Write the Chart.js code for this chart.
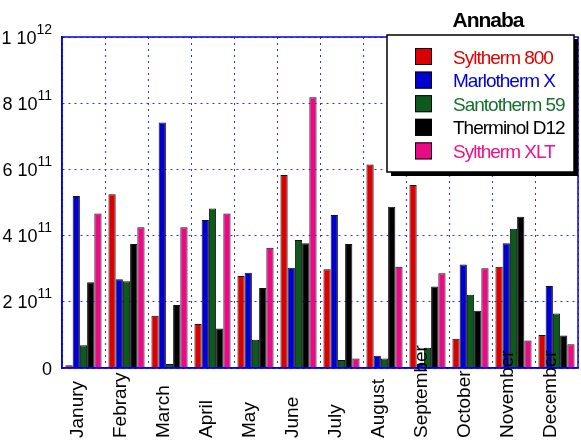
<!DOCTYPE html>
<html>
<head>
<meta charset="utf-8">
<script src="https://cdn.jsdelivr.net/npm/chart.js@4/dist/chart.umd.min.js"></script>
<style>
html,body{margin:0;padding:0;background:#fff;}
#wrap{width:581px;height:441px;position:relative;}
</style>
</head>
<body>
<div id="wrap"><canvas id="c" width="581" height="441"></canvas></div>
<script>
const chartTitle = 'Annaba';
const categories = ['Janury','Febrary','March','April','May','June','July','August','September','October','November','December'];
const seriesNames = ['Syltherm 800','Marlotherm X','Santotherm 59','Therminol D12','Syltherm XLT'];
const syltherm800  = [0.08e11, 5.25e11, 1.58e11, 1.33e11, 2.78e11, 5.83e11, 2.98e11, 6.15e11, 5.53e11, 0.88e11, 3.06e11, 1.00e11];
const marlothermX  = [5.20e11, 2.68e11, 7.42e11, 4.47e11, 2.88e11, 3.03e11, 4.62e11, 0.37e11, 0.12e11, 3.13e11, 3.77e11, 2.48e11];
const santotherm59 = [0.69e11, 2.62e11, 0.12e11, 4.82e11, 0.85e11, 3.87e11, 0.24e11, 0.29e11, 0.61e11, 2.21e11, 4.21e11, 1.65e11];
const therminolD12 = [2.59e11, 3.75e11, 1.90e11, 1.19e11, 2.42e11, 3.77e11, 3.75e11, 4.87e11, 2.46e11, 1.73e11, 4.57e11, 0.98e11];
const sylthermXLT  = [4.67e11, 4.25e11, 4.25e11, 4.67e11, 3.63e11, 8.18e11, 0.29e11, 3.06e11, 2.86e11, 3.01e11, 0.83e11, 0.72e11];
const yTickValues    = [0, 2e11, 4e11, 6e11, 8e11, 1e12];
const yTickMantissas = ['0', '2 10', '4 10', '6 10', '8 10', '1 10'];
const yTickExponents = ['', '11', '11', '11', '11', '12'];

const barColors  = ['#dc0000', '#0000d0', '#0b5c1c', '#000000', '#ea0a86'];
const textColors = ['#e00000', '#0000dd', '#17702a', '#000000', '#ee1188'];
const seriesData = [syltherm800, marlothermX, santotherm59, therminolD12, sylthermXLT];

const FONT = '"Liberation Sans", Arial, Helvetica, sans-serif';

const decorPlugin = {
  id: 'decor',
  afterDraw(chart) {
    const ctx = chart.ctx;
    const a = chart.chartArea;
    const xs = chart.scales.x, ys = chart.scales.y;
    ctx.save();
    // full frame
    ctx.strokeStyle = '#0000ee';
    ctx.lineWidth = 1.5;
    ctx.setLineDash([]);
    ctx.strokeRect(a.left, a.top, a.right - a.left, a.bottom - a.top);

    // y tick labels with superscripts
    ctx.fillStyle = '#000';
    const rightEdge = a.left - 10;
    yTickValues.forEach((v, i) => {
      const y = ys.getPixelForValue(v);
      ctx.font = '14px ' + FONT;
      const supW = yTickExponents[i] ? ctx.measureText(yTickExponents[i]).width : 0;
      if (yTickExponents[i]) {
        ctx.textAlign = 'right';
        ctx.textBaseline = 'alphabetic';
        ctx.fillText(yTickExponents[i], rightEdge, y - 3.5);
      }
      ctx.font = '18px ' + FONT;
      ctx.textAlign = 'right';
      ctx.textBaseline = 'alphabetic';
      ctx.fillText(yTickMantissas[i], rightEdge - supW, y + 6.5);
    });

    // x labels, rotated, bottom aligned
    ctx.font = '19px ' + FONT;
    ctx.fillStyle = '#000';
    categories.forEach((c, i) => {
      const x = xs.getPixelForValue(i);
      ctx.save();
      ctx.translate(x - 1, 438);
      ctx.rotate(-Math.PI / 2);
      ctx.textAlign = 'left';
      ctx.textBaseline = 'alphabetic';
      ctx.fillText(c, 0, 0);
      ctx.restore();
    });

    // title
    ctx.font = 'bold 21px ' + FONT;
    try { ctx.letterSpacing = '-1px'; } catch (e) {}
    ctx.textAlign = 'center';
    ctx.textBaseline = 'alphabetic';
    ctx.fillStyle = '#000';
    ctx.fillText(chartTitle, 488, 26.5);

    // legend box with shadow
    const bx = 387, by = 35, bw = 187, bh = 137;
    ctx.fillStyle = '#000';
    ctx.fillRect(bx + 4, by + 4, bw, bh);
    ctx.fillStyle = '#fff';
    ctx.fillRect(bx, by, bw, bh);
    ctx.strokeStyle = '#000';
    ctx.lineWidth = 1.5;
    ctx.strokeRect(bx, by, bw, bh);
    ctx.font = '19px ' + FONT;
    try { ctx.letterSpacing = '-1px'; } catch (e) {}
    chart.data.datasets.forEach((ds, i) => {
      const top = 48 + i * 23.6;
      ctx.fillStyle = ds.backgroundColor;
      ctx.fillRect(415, top, 17, 17);
      ctx.strokeStyle = '#000';
      ctx.lineWidth = 1;
      ctx.strokeRect(415.5, top + 0.5, 16, 16);
      ctx.fillStyle = textColors[i];
      ctx.textAlign = 'left';
      ctx.fillText(ds.label, 453, top + 15.5);
    });
    ctx.restore();
  }
};

new Chart(document.getElementById('c'), {
  type: 'bar',
  data: {
    labels: categories,
    datasets: seriesNames.map((n, i) => ({
      label: n,
      data: seriesData[i],
      backgroundColor: barColors[i],
      borderColor: '#111',
      borderWidth: 1,
      borderSkipped: 'bottom',
      categoryPercentage: 0.84,
      barPercentage: 1.0
    }))
  },
  options: {
    responsive: false,
    animation: false,
    devicePixelRatio: 1,
    layout: { padding: { left: 62, right: 3, top: 37, bottom: 73 } },
    plugins: { legend: { display: false }, tooltip: { enabled: false }, title: { display: false } },
    scales: {
      x: {
        ticks: { display: false },
        grid: { display: true, color: '#3030ee', lineWidth: 1, drawTicks: false, offset: true },
        border: { display: true, color: '#0000ee', width: 1.5, dash: [2, 4] }
      },
      y: {
        min: 0, max: 1e12,
        ticks: { display: false, stepSize: 2e11 },
        grid: { display: true, color: '#3030ee', lineWidth: 1, drawTicks: false },
        border: { display: true, color: '#0000ee', width: 1.5, dash: [2, 4] }
      }
    }
  },
  plugins: [decorPlugin]
});
</script>
</body>
</html>
